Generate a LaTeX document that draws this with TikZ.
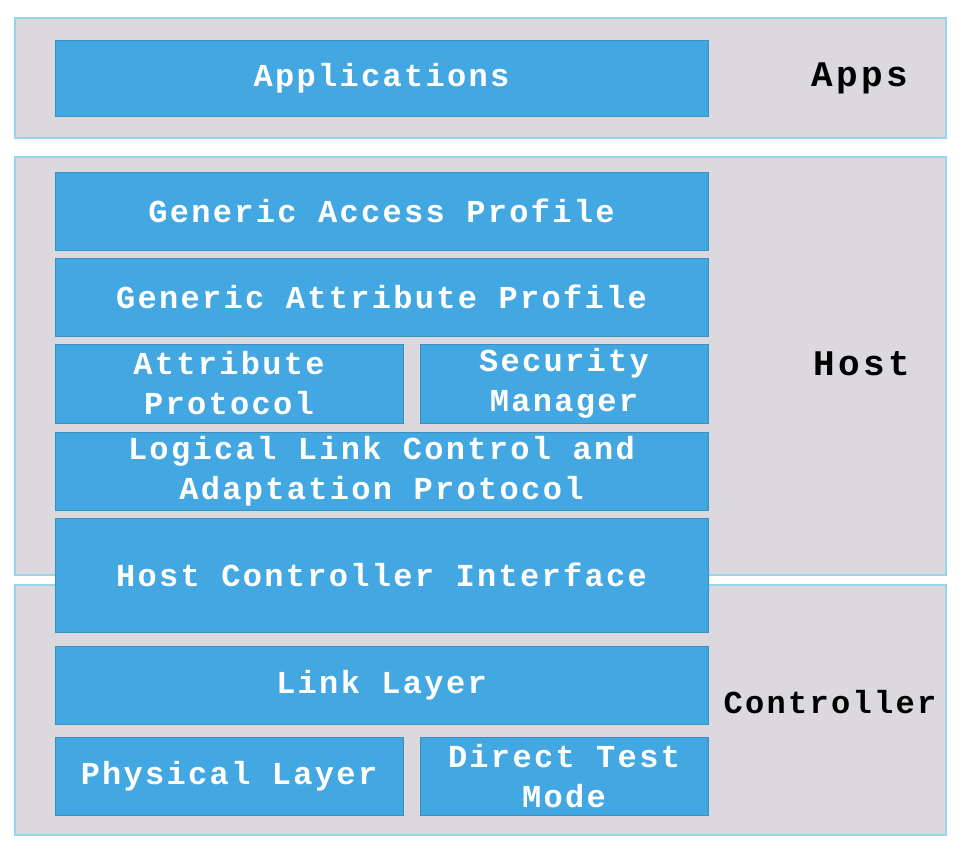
\documentclass[tikz,border=0pt]{standalone}
\usepackage{fontspec}
\newfontfamily\cour[LetterSpace=7.2]{Liberation Mono}
\newfontfamily\courb[LetterSpace=9.4]{Liberation Mono}
\definecolor{blk}{RGB}{67,168,225}
\definecolor{gry}{RGB}{219,217,221}
\definecolor{bdr}{RGB}{150,213,234}
\tikzset{
  layer/.style={draw=bdr, line width=1.5pt, fill=gry},
  blkbox/.style={fill=blk, draw=blk!85!black, line width=0.4pt, inner sep=0pt, text=white,
    font=\cour\bfseries\fontsize{32}{40}\selectfont, align=center},
  lbl/.style={text=black, font=\courb\bfseries\fontsize{36}{40}\selectfont, inner sep=0pt},
  clbl/.style={text=black, font=\cour\bfseries\fontsize{32}{40}\selectfont, inner sep=0pt}
}
\newcommand{\blkat}[6]{% name, x1, y1, x2, y2, text
  \node[blkbox, minimum width={#4-#2}, minimum height={#5-#3}] (#1) at ({(#2+#4)/2},{(#3+#5)/2}) {#6};}
\begin{document}
\begin{tikzpicture}[x=1pt,y=-1pt]
\useasboundingbox[fill=white] (0,0) rectangle (966,854);
% outer layers
\draw[layer] (15,18) rectangle (946,138);
\draw[layer] (15,157) rectangle (946,575);
\draw[layer] (15,585) rectangle (946,835);
% apps
\blkat{app}{55}{40}{708}{116}{Applications}
% host
\blkat{gap}{55}{172}{708}{250}{Generic Access Profile}
\blkat{gatt}{55}{258}{708}{336}{Generic Attribute Profile}
\blkat{att}{55}{344}{403}{423}{Attribute\\Protocol}
\blkat{sm}{420}{344}{708}{423}{Security\\Manager}
\blkat{l2cap}{55}{432}{708}{510}{Logical Link Control and\\Adaptation Protocol}
\blkat{hci}{55}{518}{708}{632}{Host Controller Interface}
% controller
\blkat{ll}{55}{646}{708}{724}{Link Layer}
\blkat{phy}{55}{737}{403}{815}{Physical Layer}
\blkat{dtm}{420}{737}{708}{815}{Direct Test\\Mode}
% labels
\node[lbl] (lapps) at (860,78) {Apps};
\node[lbl] (lhost) at (862,364) {Host};
\node[clbl] (lctrl) at (830,702) {Controller};
\end{tikzpicture}
\end{document}
